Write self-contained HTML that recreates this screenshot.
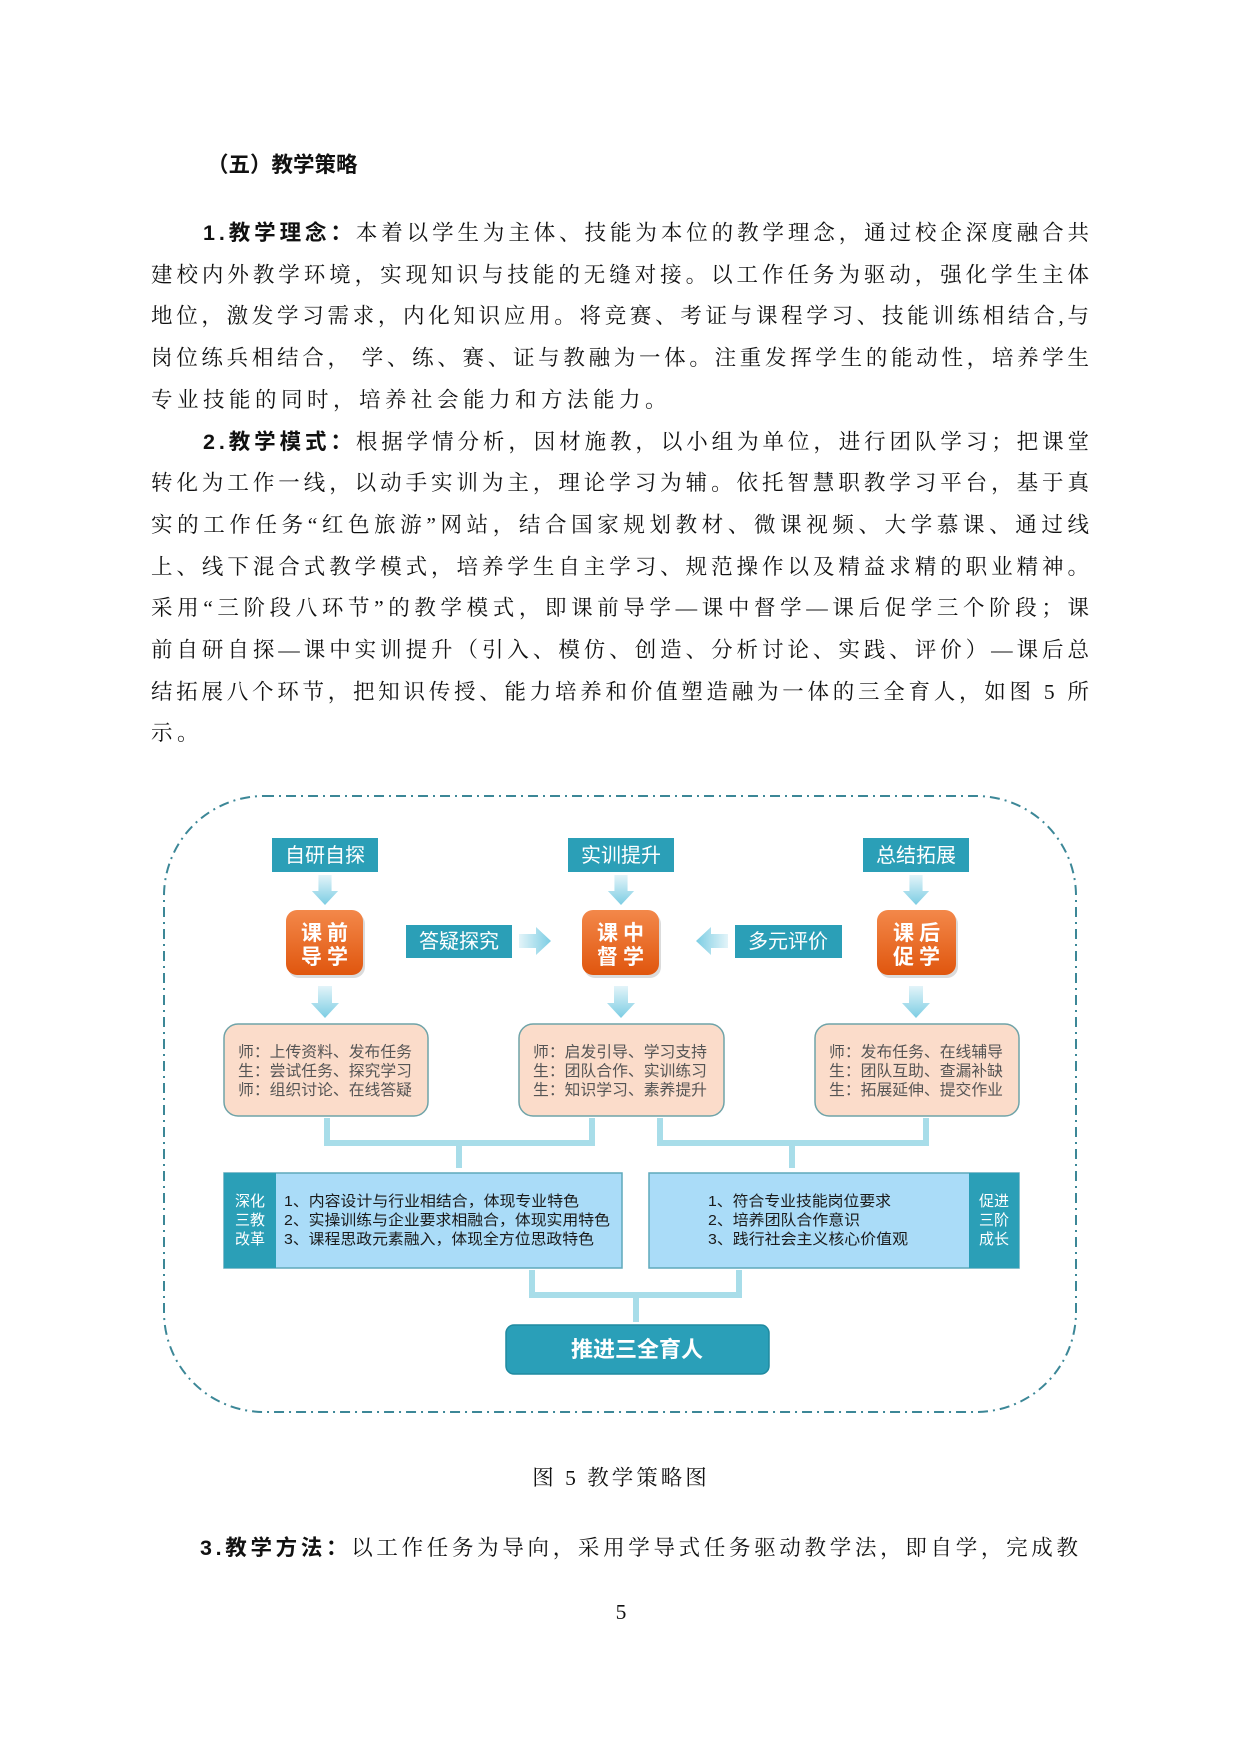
<!DOCTYPE html>
<html><head><meta charset="utf-8"><style>
html,body{margin:0;padding:0;background:#fff;}
svg{display:block}
.b{font-family:"Liberation Serif","Noto Serif CJK SC",serif;font-size:21.5px;fill:#111}
.bb{font-family:"Liberation Sans","Noto Sans CJK SC",sans-serif;font-weight:bold}
.s{font-family:"Liberation Sans","Noto Sans CJK SC",sans-serif}
</style></head><body>
<svg width="1240" height="1753" viewBox="0 0 1240 1753" xmlns="http://www.w3.org/2000/svg">
<defs>
<linearGradient id="ad" x1="0" y1="0" x2="0" y2="1"><stop offset="0" stop-color="#e3f4f9"/><stop offset="1" stop-color="#7ccde3"/></linearGradient>
<linearGradient id="ar" x1="0" y1="0" x2="1" y2="0"><stop offset="0" stop-color="#e3f4f9"/><stop offset="1" stop-color="#7ccde3"/></linearGradient>
<linearGradient id="al" x1="1" y1="0" x2="0" y2="0"><stop offset="0" stop-color="#e3f4f9"/><stop offset="1" stop-color="#7ccde3"/></linearGradient>
<linearGradient id="or" x1="0" y1="0" x2="0" y2="1"><stop offset="0" stop-color="#f3884a"/><stop offset="1" stop-color="#e0560e"/></linearGradient>
<symbol id="down" viewBox="0 0 28 32"><path d="M7,0H21V17H28L14,32L0,17H7Z" fill="url(#ad)"/></symbol>
</defs>

<text class="b bb" x="207" y="172" font-size="22">（五）教学策略</text>

<text class="b" y="240" x="203" textLength="886" lengthAdjust="spacing"><tspan class="bb">1.教学理念：</tspan>本着以学生为主体、技能为本位的教学理念，通过校企深度融合共</text>
<text class="b" y="282" x="151" textLength="938" lengthAdjust="spacing">建校内外教学环境，实现知识与技能的无缝对接。以工作任务为驱动，强化学生主体</text>
<text class="b" y="323" x="151" textLength="938" lengthAdjust="spacing">地位，激发学习需求，内化知识应用。将竞赛、考证与课程学习、技能训练相结合,与</text>
<text class="b" y="365" x="151" textLength="938" lengthAdjust="spacing">岗位练兵相结合， 学、练、赛、证与教融为一体。注重发挥学生的能动性，培养学生</text>
<text class="b" y="407" x="151" letter-spacing="4.5">专业技能的同时，培养社会能力和方法能力。</text>
<text class="b" y="449" x="203" textLength="886" lengthAdjust="spacing"><tspan class="bb">2.教学模式：</tspan>根据学情分析，因材施教，以小组为单位，进行团队学习；把课堂</text>
<text class="b" y="490" x="151" textLength="938" lengthAdjust="spacing">转化为工作一线，以动手实训为主，理论学习为辅。依托智慧职教学习平台，基于真</text>
<text class="b" y="532" x="151" textLength="938" lengthAdjust="spacing">实的工作任务“红色旅游”网站，结合国家规划教材、微课视频、大学慕课、通过线</text>
<text class="b" y="574" x="151" textLength="938" lengthAdjust="spacing">上、线下混合式教学模式，培养学生自主学习、规范操作以及精益求精的职业精神。</text>
<text class="b" y="615" x="151" textLength="938" lengthAdjust="spacing">采用“三阶段八环节”的教学模式，即课前导学—课中督学—课后促学三个阶段；课</text>
<text class="b" y="657" x="151" textLength="938" lengthAdjust="spacing">前自研自探—课中实训提升（引入、模仿、创造、分析讨论、实践、评价）—课后总</text>
<text class="b" y="699" x="151" textLength="938" lengthAdjust="spacing">结拓展八个环节，把知识传授、能力培养和价值塑造融为一体的三全育人，如图 5 所</text>
<text class="b" y="740" x="151" letter-spacing="4.5">示。</text>

<rect x="164" y="796" width="912" height="616" rx="100" fill="none" stroke="#3c8797" stroke-width="2" stroke-dasharray="10,5,2,5"/>

<g class="s" font-size="20" fill="#fff" text-anchor="middle">
<rect x="272" y="838" width="106" height="34" fill="#2b9fb7"/><text x="325" y="862">自研自探</text>
<rect x="568" y="838" width="106" height="34" fill="#2b9fb7"/><text x="621" y="862">实训提升</text>
<rect x="863" y="838" width="106" height="34" fill="#2b9fb7"/><text x="916" y="862">总结拓展</text>
<rect x="406" y="925" width="106" height="33" fill="#2b9fb7"/><text x="459" y="948">答疑探究</text>
<rect x="735" y="925" width="107" height="33" fill="#2b9fb7"/><text x="788" y="948">多元评价</text>
</g>

<use href="#down" x="311" y="875" width="28" height="30"/>
<use href="#down" x="607" y="875" width="28" height="30"/>
<use href="#down" x="902" y="875" width="28" height="30"/>
<use href="#down" x="311" y="986" width="28" height="32"/>
<use href="#down" x="607" y="986" width="28" height="32"/>
<use href="#down" x="902" y="986" width="28" height="32"/>
<path d="M519,934H536V927L551,941L536,955V948H519Z" fill="url(#ar)"/>
<path d="M728,934H711V927L696,941L711,955V948H728Z" fill="url(#al)"/>

<g class="s" font-weight="bold" font-size="21" fill="#fff" text-anchor="middle" letter-spacing="5">
<rect x="288" y="913" width="77" height="65" rx="11" fill="#999" opacity="0.35"/>
<rect x="286" y="910" width="77" height="65" rx="11" fill="url(#or)"/>
<text x="327" y="940">课前</text><text x="327" y="964">导学</text>
<rect x="584" y="913" width="77" height="65" rx="11" fill="#999" opacity="0.35"/>
<rect x="582" y="910" width="77" height="65" rx="11" fill="url(#or)"/>
<text x="623" y="940">课中</text><text x="623" y="964">督学</text>
<rect x="879" y="913" width="79" height="65" rx="11" fill="#999" opacity="0.35"/>
<rect x="877" y="910" width="79" height="65" rx="11" fill="url(#or)"/>
<text x="919" y="940">课后</text><text x="919" y="964">促学</text>
</g>

<g stroke="#6fa3a8" stroke-width="1.5" fill="#fbdcca">
<rect x="224" y="1024" width="204" height="92" rx="14"/>
<rect x="519" y="1024" width="205" height="92" rx="14"/>
<rect x="815" y="1024" width="204" height="92" rx="14"/>
</g>
<g class="s" font-size="15.5" fill="#555">
<text x="238" y="1057" textLength="174" lengthAdjust="spacingAndGlyphs">师：上传资料、发布任务</text>
<text x="238" y="1076" textLength="174" lengthAdjust="spacingAndGlyphs">生：尝试任务、探究学习</text>
<text x="238" y="1095" textLength="174" lengthAdjust="spacingAndGlyphs">师：组织讨论、在线答疑</text>
<text x="533" y="1057" textLength="174" lengthAdjust="spacingAndGlyphs">师：启发引导、学习支持</text>
<text x="533" y="1076" textLength="174" lengthAdjust="spacingAndGlyphs">生：团队合作、实训练习</text>
<text x="533" y="1095" textLength="174" lengthAdjust="spacingAndGlyphs">生：知识学习、素养提升</text>
<text x="829" y="1057" textLength="174" lengthAdjust="spacingAndGlyphs">师：发布任务、在线辅导</text>
<text x="829" y="1076" textLength="174" lengthAdjust="spacingAndGlyphs">生：团队互助、查漏补缺</text>
<text x="829" y="1095" textLength="174" lengthAdjust="spacingAndGlyphs">生：拓展延伸、提交作业</text>
</g>

<g fill="none" stroke="#a8dde9" stroke-width="6">
<path d="M327,1118V1143H592V1118M459,1143V1168"/>
<path d="M660,1118V1143H926V1118M792,1143V1168"/>
<path d="M532,1270V1295H739V1270M636,1295V1322"/>
</g>

<rect x="224" y="1173" width="398" height="95" fill="#aadcf8" stroke="#5ea9bb" stroke-width="1.5"/>
<rect x="224" y="1173" width="52" height="95" fill="#2b9fb7"/>
<rect x="649" y="1173" width="370" height="95" fill="#aadcf8" stroke="#5ea9bb" stroke-width="1.5"/>
<rect x="969" y="1173" width="50" height="95" fill="#2b9fb7"/>
<g class="s" font-size="15" fill="#fff" text-anchor="middle">
<text x="250" y="1206">深化</text><text x="250" y="1225">三教</text><text x="250" y="1244">改革</text>
<text x="994" y="1206">促进</text><text x="994" y="1225">三阶</text><text x="994" y="1244">成长</text>
</g>
<g class="s" font-size="15" fill="#1a1a1a">
<text x="284" y="1206" textLength="295" lengthAdjust="spacingAndGlyphs">1、内容设计与行业相结合，体现专业特色</text>
<text x="284" y="1225" textLength="326" lengthAdjust="spacingAndGlyphs">2、实操训练与企业要求相融合，体现实用特色</text>
<text x="284" y="1244" textLength="310" lengthAdjust="spacingAndGlyphs">3、课程思政元素融入，体现全方位思政特色</text>
<text x="708" y="1206" textLength="183" lengthAdjust="spacingAndGlyphs">1、符合专业技能岗位要求</text>
<text x="708" y="1225" textLength="152" lengthAdjust="spacingAndGlyphs">2、培养团队合作意识</text>
<text x="708" y="1244" textLength="200" lengthAdjust="spacingAndGlyphs">3、践行社会主义核心价值观</text>
</g>

<rect x="506" y="1325" width="263" height="49" rx="8" fill="#2a9fb8" stroke="#1f8aa0" stroke-width="1.5"/>
<text class="s" x="637" y="1357" font-size="22" font-weight="bold" fill="#fff" text-anchor="middle">推进三全育人</text>

<text class="b" x="621" y="1485" font-size="20" text-anchor="middle" letter-spacing="3">图 5 教学策略图</text>
<text class="b" y="1555" x="200" textLength="878" lengthAdjust="spacing"><tspan class="bb">3.教学方法：</tspan>以工作任务为导向，采用学导式任务驱动教学法，即自学，完成教</text>
<text class="b" x="621" y="1619" font-size="15" text-anchor="middle">5</text>
</svg>
</body></html>
